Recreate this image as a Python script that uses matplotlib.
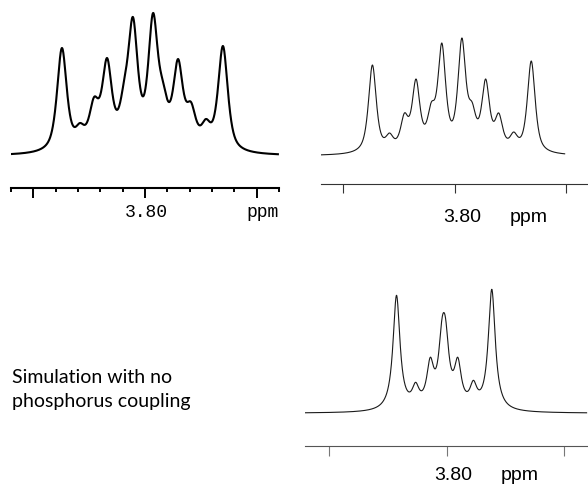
import numpy as np
import matplotlib.pyplot as plt
import matplotlib.transforms as mtransforms

# line positions (ppm) and apparent heights
exp_ppm = [3.8372, 3.8291, 3.8228, 3.8170, 3.8094, 3.8054,
           3.7964, 3.7919, 3.7852, 3.7794, 3.7727, 3.7651]
exp_hgt = [108, 33, 59, 98, 75, 139, 143, 74, 97, 54, 37, 110]

sim_ppm = [3.8369, 3.8292, 3.8225, 3.8173, 3.8104, 3.8057,
           3.7967, 3.7921, 3.7860, 3.7801, 3.7734, 3.7655]
sim_hgt = [91, 23, 43, 77, 54, 113, 118, 54, 77, 43, 24, 95]

# simulation without 31P coupling
nop_ppm = [3.8212, 3.8131, 3.8069, 3.8019, 3.8004, 3.7952, 3.7886, 3.7808]
nop_hgt = [118, 31, 56, 95, 95, 56, 33, 124]

major_ticks = [3.85, 3.80, 3.75]
minor_ticks = [3.86, 3.84, 3.83, 3.82, 3.81, 3.79, 3.78, 3.77, 3.76, 3.74]


def spectrum(ppm, centers, heights, hw, eta):
    # pseudo-voigt lines, amplitudes solved so the sum matches the read heights
    c = np.asarray(centers)
    h = np.asarray(heights, float)

    def shape(d):
        lor = hw ** 2 / (d ** 2 + hw ** 2)
        gau = np.exp(-np.log(2) * (d / hw) ** 2)
        return eta * lor + (1 - eta) * gau

    amp = np.linalg.solve(shape(c[:, None] - c[None, :]), h)
    amp = np.clip(amp, 0, None)
    return (amp[None, :] * shape(ppm[:, None] - c[None, :])).sum(axis=1)


W, H = 588, 484
fig = plt.figure(figsize=(W / 100, H / 100), dpi=100)


def px_axes(x0, y0, x1, y1):
    ax = fig.add_axes([x0 / W, 1 - y1 / H, (x1 - x0) / W, (y1 - y0) / H])
    for s in ['top', 'left', 'right']:
        ax.spines[s].set_visible(False)
    ax.set_yticks([])
    ax.patch.set_alpha(0)
    ax.set_xlim(3.86, 3.74)
    return ax


def label(ax, x, y_px, s, **kw):
    tr = mtransforms.blended_transform_factory(ax.transData, fig.transFigure)
    ax.text(x, 1 - y_px / H, s, transform=tr, ha='center', va='baseline',
            clip_on=False, **kw)


# top left: measured
ax1 = px_axes(11, 5, 279, 188)
x = np.linspace(3.86, 3.7405, 1500)
ax1.plot(x, spectrum(x, exp_ppm, exp_hgt, 0.0026, 0.7), color='black', lw=1.5)
ax1.set_ylim(-32, 151)
ax1.set_xticks(major_ticks)
ax1.set_xticks(minor_ticks, minor=True)
ax1.tick_params(labelbottom=False)
ax1.tick_params(which='major', length=7, width=1.4, color='black')
ax1.tick_params(which='minor', length=3, width=1.4, color='black')
ax1.spines['bottom'].set_linewidth(1.5)
label(ax1, 3.7996, 217, '3.80', family='Liberation Mono', fontsize=13)
label(ax1, 3.7472, 217, 'ppm', family='Liberation Mono', fontsize=13)

# top right: simulation with coupling
ax2 = px_axes(321, 5, 588, 184)
x = np.linspace(3.86, 3.7505, 1500)
ax2.plot(x, spectrum(x, sim_ppm, sim_hgt, 0.0021, 0.75), color='#1a1a1a', lw=0.8)
ax2.set_ylim(-28, 151)
ax2.set_xticks(major_ticks)
ax2.tick_params(labelbottom=False, length=6.5, width=0.8, color='#333333')
ax2.spines['bottom'].set_color('#333333')
ax2.spines['bottom'].set_linewidth(0.8)
label(ax2, 3.7964, 222, '3.80', family='Liberation Sans', fontsize=14)
label(ax2, 3.7665, 222, 'ppm', family='Liberation Sans', fontsize=14)

# bottom right: simulation without coupling
ax3 = px_axes(305, 280, 588, 446)
x = np.linspace(3.86, 3.7406, 1500)
ax3.plot(x, spectrum(x, nop_ppm, nop_hgt, 0.0018, 1.0), color='#1a1a1a', lw=0.8)
ax3.set_ylim(-32.7, 133.3)
ax3.set_xticks(major_ticks)
ax3.tick_params(labelbottom=False, length=7.2, width=0.8, color='#777777')
ax3.spines['bottom'].set_color('#555555')
ax3.spines['bottom'].set_linewidth(0.8)
label(ax3, 3.7970, 480, '3.80', family='Liberation Sans', fontsize=14)
label(ax3, 3.7690, 480, 'ppm', family='Liberation Sans', fontsize=14)

fig.text(12 / W, 1 - 382.7 / H, 'Simulation with no', family='Lato',
         fontsize=14, va='baseline', ha='left')
fig.text(12 / W, 1 - 406.7 / H, 'phosphorus coupling', family='Lato',
         fontsize=14, va='baseline', ha='left')

fig.savefig('out.png', dpi=100)
